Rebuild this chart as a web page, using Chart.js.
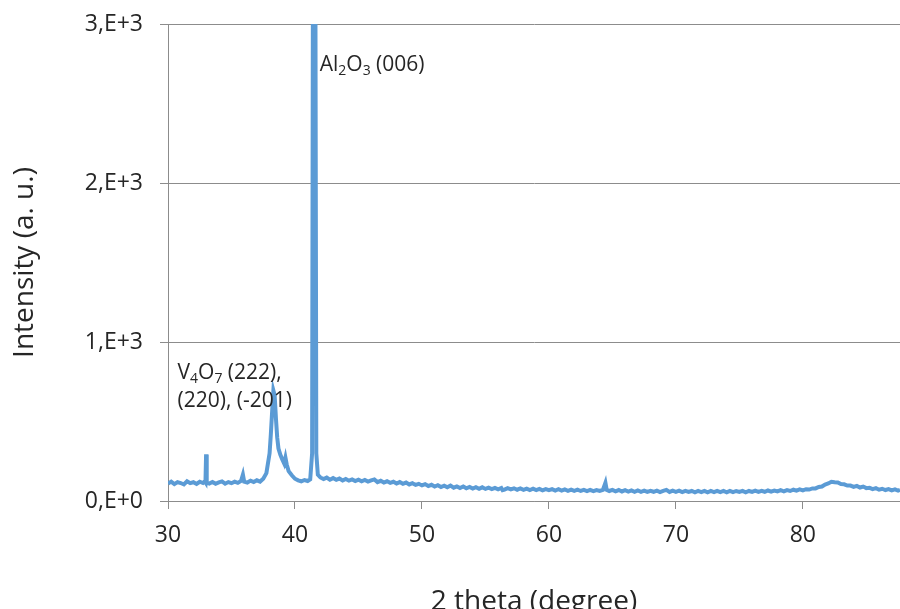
<!DOCTYPE html>
<html lang="en">
<head>
    <meta charset="UTF-8">
    <title>XRD pattern</title>
    <script src="https://cdn.jsdelivr.net/npm/chart.js@4.4.0/dist/chart.umd.min.js"></script>
    <style>
        html, body { margin: 0; padding: 0; background: #fff; overflow: hidden; }
        canvas { display: block; }
    </style>
</head>
<body>
    <canvas id="xrdChart" width="900" height="609"></canvas>

    <script>
        // 2 theta positions (degree)
        const twoTheta = [
            30.00, 30.25, 30.50, 30.75, 31.00, 31.25, 31.50, 31.75, 32.00, 32.25, 32.50, 32.75, 32.90, 32.95, 33.00, 33.05,
            33.25, 33.50, 33.75, 34.00, 34.25, 34.50, 34.75, 35.00, 35.25, 35.50, 35.75, 35.90, 36.00, 36.25, 36.50, 36.75,
            37.00, 37.25, 37.50, 37.75, 38.00, 38.10, 38.20, 38.30, 38.40, 38.50, 38.60, 38.70, 38.85, 39.00, 39.15, 39.25,
            39.35, 39.50, 39.75, 40.00, 40.25, 40.50, 40.75, 41.00, 41.20, 41.35, 41.42, 41.46, 41.56, 41.60, 41.68, 41.80,
            42.00, 42.25, 42.50, 42.75, 43.00, 43.25, 43.50, 43.75, 44.00, 44.25, 44.50, 44.75, 45.00, 45.25, 45.50, 45.75,
            46.00, 46.25, 46.50, 46.75, 47.00, 47.25, 47.50, 47.75, 48.00, 48.25, 48.50, 48.75, 49.00, 49.25, 49.50, 49.75,
            50.00, 50.25, 50.50, 50.75, 51.00, 51.25, 51.50, 51.75, 52.00, 52.25, 52.50, 52.75, 53.00, 53.25, 53.50, 53.75,
            54.00, 54.25, 54.50, 54.75, 55.00, 55.25, 55.50, 55.75, 56.00, 56.25, 56.35, 56.50, 56.75, 57.00, 57.25, 57.50,
            57.75, 58.00, 58.25, 58.50, 58.75, 59.00, 59.25, 59.50, 59.75, 60.00, 60.25, 60.50, 60.75, 61.00, 61.25, 61.50,
            61.75, 62.00, 62.25, 62.50, 62.75, 63.00, 63.25, 63.50, 63.75, 64.00, 64.25, 64.45, 64.55, 64.75, 65.00, 65.25,
            65.50, 65.75, 66.00, 66.25, 66.50, 66.75, 67.00, 67.25, 67.50, 67.75, 68.00, 68.25, 68.50, 68.75, 69.00, 69.25,
            69.50, 69.75, 70.00, 70.25, 70.50, 70.75, 71.00, 71.25, 71.50, 71.75, 72.00, 72.25, 72.50, 72.75, 73.00, 73.25,
            73.50, 73.75, 74.00, 74.25, 74.50, 74.75, 75.00, 75.25, 75.50, 75.75, 76.00, 76.25, 76.50, 76.75, 77.00, 77.25,
            77.50, 77.75, 78.00, 78.25, 78.50, 78.75, 79.00, 79.25, 79.50, 79.75, 80.00, 80.25, 80.50, 80.75, 81.00, 81.25,
            81.50, 81.75, 82.00, 82.25, 82.50, 82.75, 83.00, 83.25, 83.50, 83.75, 84.00, 84.25, 84.50, 84.75, 85.00, 85.25,
            85.50, 85.75, 86.00, 86.25, 86.50, 86.75, 87.00, 87.25, 87.50, 87.65
        ];

        // intensity (a. u.) at each position
        const intensity = [
            110, 122, 106, 119, 113, 104, 124, 112, 118, 107, 121, 113, 124, 118, 293, 116,
            110, 120, 108, 117, 123, 109, 119, 112, 122, 114, 126, 166, 122, 116, 128, 119,
            130, 122, 140, 175, 300, 420, 560, 695, 665, 520, 400, 330, 290, 262, 236, 272,
            230, 188, 162, 140, 130, 124, 132, 126, 136, 300, 3600, 3600, 3600, 3600, 300, 165,
            148, 138, 147, 134, 144, 133, 141, 129, 139, 128, 136, 125, 134, 124, 132, 122,
            130, 136, 119, 127, 116, 124, 114, 121, 110, 119, 108, 116, 104, 112, 101, 108,
            98, 106, 94, 102, 91, 99, 88, 96, 86, 97, 84, 92, 82, 91, 80, 88,
            78, 87, 77, 86, 76, 84, 75, 83, 74, 82, 68, 72, 81, 73, 80, 71,
            79, 70, 78, 69, 77, 68, 76, 67, 75, 68, 75, 66, 74, 65, 73, 64,
            72, 64, 71, 63, 70, 62, 70, 62, 69, 63, 70, 115, 70, 63, 70, 61,
            69, 60, 68, 59, 67, 58, 66, 58, 65, 57, 64, 58, 65, 56, 64, 70,
            57, 65, 58, 65, 56, 64, 57, 63, 55, 63, 56, 64, 55, 63, 56, 64,
            56, 63, 55, 64, 56, 63, 57, 64, 55, 63, 57, 65, 57, 64, 58, 66,
            59, 66, 60, 68, 61, 69, 63, 71, 65, 73, 67, 74, 72, 79, 79, 88,
            91, 104, 110, 121, 118, 116, 106, 105, 97, 97, 89, 95, 85, 91, 81, 83,
            75, 81, 71, 77, 69, 75, 67, 73, 65, 70
        ];

        const yTicks = [0, 1000, 2000, 3000];
        const xTicks = [30, 40, 50, 60, 70, 80];

        const fontFamily = '"Open Sans", sans-serif';
        const textColor = '#262626';
        const gridColor = '#8c8c8c';

        // "1000" -> "1,E+3" (Excel scientific style with comma)
        function sciLabel(v) {
            if (v === 0) return '0,E+0';
            const e = Math.floor(Math.log10(v));
            return Math.round(v / Math.pow(10, e)) + ',E+' + e;
        }

        // labels with subscripts, anchored in data coordinates
        const peakLabels = [
            { x: 41.95, y: 2740, lines: [[['Al'], ['2', 1], ['O'], ['3', 1], [' (006)']]] },
            { x: 30.75, y: 805, lines: [[['V'], ['4', 1], ['O'], ['7', 1], [' (222),']], [['(220), (-201)']]] }
        ];

        const peakLabelPlugin = {
            id: 'peakLabels',
            afterDatasetsDraw(chart) {
                const ctx = chart.ctx;
                const xs = chart.scales.x, ys = chart.scales.y;
                ctx.save();
                ctx.fillStyle = textColor;
                ctx.textBaseline = 'middle';
                peakLabels.forEach(lbl => {
                    const x0 = xs.getPixelForValue(lbl.x);
                    let y = ys.getPixelForValue(lbl.y);
                    lbl.lines.forEach(line => {
                        let x = x0;
                        line.forEach(([t, sub]) => {
                            ctx.font = (sub ? '14px ' : '21px ') + fontFamily;
                            ctx.fillText(t, x, sub ? y + 6 : y);
                            x += ctx.measureText(t).width;
                        });
                        y += 28;
                    });
                });
                ctx.restore();
            }
        };

        new Chart(document.getElementById('xrdChart'), {
            type: 'line',
            data: {
                datasets: [{
                    data: twoTheta.map((t, i) => ({ x: t, y: intensity[i] })),
                    borderColor: '#5b9bd5',
                    borderWidth: 4,
                    pointRadius: 0,
                    tension: 0,
                    clip: 0
                }]
            },
            options: {
                responsive: false,
                animation: false,
                layout: { padding: { top: 24, right: 0, left: 0, bottom: 0 } },
                plugins: {
                    legend: { display: false },
                    tooltip: { enabled: false }
                },
                scales: {
                    x: {
                        type: 'linear',
                        min: 30,
                        max: 87.65,
                        afterBuildTicks(scale) {
                            scale.ticks = xTicks.map(v => ({ value: v }));
                        },
                        afterFit(scale) {
                            scale.height = 108;
                            scale.paddingLeft = 0;
                            scale.paddingRight = 0;
                        },
                        grid: { drawOnChartArea: false, drawTicks: true, tickLength: 8, color: gridColor },
                        border: { display: true, color: gridColor },
                        ticks: {
                            color: textColor,
                            padding: 13,
                            maxRotation: 0,
                            font: { family: fontFamily, size: 23 }
                        },
                        title: {
                            display: true,
                            text: '2 theta (degree)',
                            color: textColor,
                            font: { family: fontFamily, size: 28 },
                            padding: { top: 0, bottom: -10 }
                        }
                    },
                    y: {
                        min: 0,
                        max: 3000,
                        afterBuildTicks(scale) {
                            scale.ticks = yTicks.map(v => ({ value: v }));
                        },
                        afterFit(scale) {
                            scale.width = 168;
                            scale.paddingTop = 0;
                            scale.paddingBottom = 0;
                        },
                        grid: { color: gridColor, tickLength: 8 },
                        border: { display: true, color: gridColor },
                        ticks: {
                            color: textColor,
                            padding: 17,
                            callback: v => sciLabel(v),
                            font: { family: fontFamily, size: 23 }
                        },
                        title: {
                            display: true,
                            text: 'Intensity (a. u.)',
                            color: textColor,
                            font: { family: fontFamily, size: 28 },
                            padding: { top: 8, bottom: 8 }
                        }
                    }
                }
            },
            plugins: [peakLabelPlugin]
        });
    </script>
</body>
</html>
